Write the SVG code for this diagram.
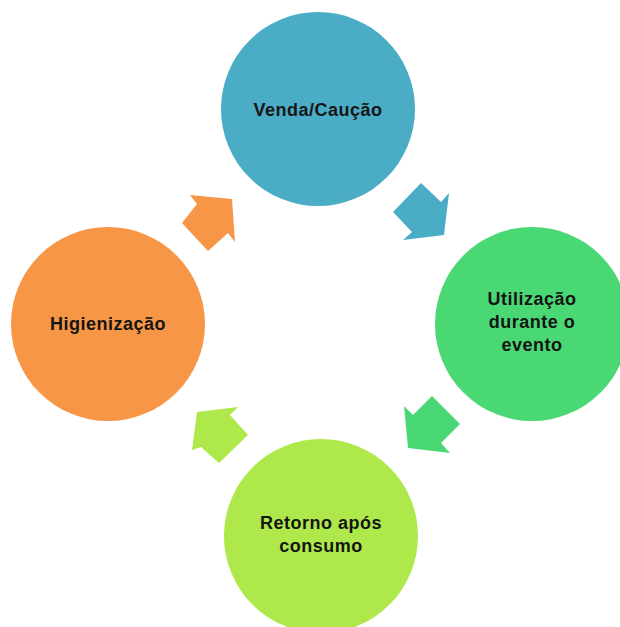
<svg xmlns="http://www.w3.org/2000/svg" width="620" height="627" viewBox="0 0 620 627">
  <style>
    .lbl { font-family: "Liberation Sans", Arial, sans-serif; font-weight: bold; font-size: 18px; letter-spacing: 0.5px; fill: #151515; text-anchor: middle; }
    .blue { fill: #4BACC6; }
    .green { fill: #4AD874; }
    .lime { fill: #AEE84A; }
    .orange { fill: #F79646; }
  </style>
  <rect width="620" height="627" fill="#ffffff"/>

  <!-- block arrows between the stages, clockwise -->
  <g id="connectors">
    <polygon class="blue" points="393,212 421,183 441,202 449,193 444,235 403,240 412,232"/>
    <polygon class="green" points="432,396 460,424 441,443 450,453 408,448 404,406 413,415"/>
    <polygon class="lime" points="248,435 219,463 201,447 192,450 197,412 238,407 230,415"/>
    <polygon class="orange" points="182,223 208,251 228,233 235,242 232,199 190,195 197,204"/>
  </g>

  <g id="venda">
    <circle class="blue" cx="318" cy="109" r="97"/>
    <text class="lbl" x="318" y="116">Venda/Caução</text>
  </g>

  <g id="utilizacao">
    <circle class="green" cx="532" cy="324" r="97"/>
    <text class="lbl" x="532" y="305">Utilização</text>
    <text class="lbl" x="532" y="328">durante o</text>
    <text class="lbl" x="532" y="351">evento</text>
  </g>

  <g id="retorno">
    <circle class="lime" cx="321" cy="536" r="97"/>
    <text class="lbl" x="321" y="529">Retorno após</text>
    <text class="lbl" x="321" y="552">consumo</text>
  </g>

  <g id="higienizacao">
    <circle class="orange" cx="108" cy="324" r="97"/>
    <text class="lbl" x="108" y="330">Higienização</text>
  </g>
</svg>
